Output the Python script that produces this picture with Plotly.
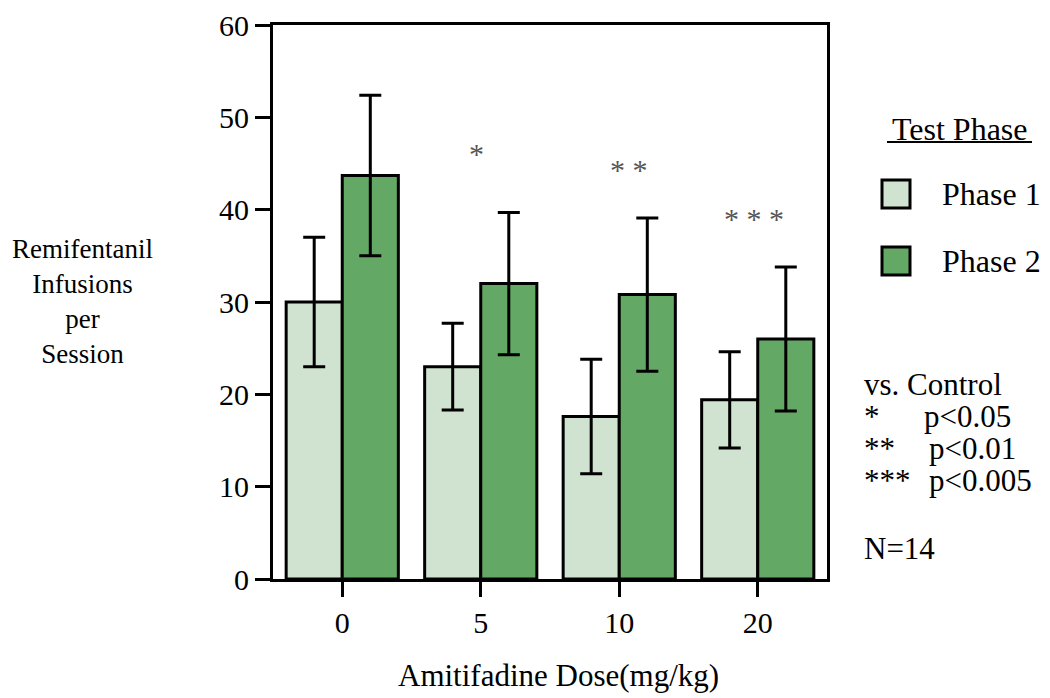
import plotly.graph_objects as go

doses = ["0", "5", "10", "20"]
series_names = ["Phase 1", "Phase 2"]
phase1_mean = [30.0, 23.0, 17.6, 19.4]
phase1_err = [7.0, 4.7, 6.2, 5.2]
phase2_mean = [43.7, 32.0, 30.8, 26.0]
phase2_err = [8.7, 7.7, 8.3, 7.8]
sig_labels = ["", "*", "* *", "* * *"]
sig_y = [None, 46.1, 44.4, 39.0]
y_ticks = [0, 10, 20, 30, 40, 50, 60]
legend_title = "Test Phase"
stat_header = "vs. Control"
stat_stars = ["*", "**", "***"]
stat_p = ["p<0.05", "p<0.01", "p<0.005"]
n_label = "N=14"
y_title_lines = ["Remifentanil", "Infusions", "per", "Session"]
x_title = "Amitifadine Dose(mg/kg)"

colors = ["#D0E3D0", "#64A865"]
FONT = "Liberation Serif"

# page offset of the figure (default body margin) and plot area in page pixels
OFF = 8
PAGE_W, PAGE_H = 1050, 698
L, R, T, B = 273, 827, 25, 579


def px(xp):
    return (xp - L) / (R - L)


def py(yp):
    return (B - yp) / (B - T)


fig = go.Figure()
for name, mean, err, col in zip(series_names, [phase1_mean, phase2_mean],
                                [phase1_err, phase2_err], colors):
    fig.add_trace(go.Bar(
        x=doses, y=mean, name=name,
        marker=dict(color=col, line=dict(color="black", width=3)),
        error_y=dict(type="data", array=err, visible=True, color="black",
                     thickness=3, width=11),
        showlegend=False,
    ))

fig.update_layout(
    width=PAGE_W - OFF, height=PAGE_H - OFF,
    margin=dict(l=L - OFF, r=PAGE_W - R, t=T - OFF, b=PAGE_H - B, autoexpand=False),
    plot_bgcolor="white", paper_bgcolor="white",
    barmode="group", bargap=0.19, bargroupgap=0,
    font=dict(family=FONT, color="black"),
    xaxis=dict(type="category", categoryorder="array", categoryarray=doses,
               range=[-0.5, len(doses) - 0.5], automargin=False,
               showline=True, linecolor="black", linewidth=3,
               mirror=True, ticks="outside", ticklen=15, tickwidth=3,
               tickcolor="black", tickfont=dict(size=30, family=FONT),
               showgrid=False, zeroline=False),
    yaxis=dict(range=[0, 60], tickvals=y_ticks, showline=True, linecolor="black",
               automargin=False,
               linewidth=3, mirror=True, ticks="outside", ticklen=15, tickwidth=3,
               tickcolor="black", tickfont=dict(size=30, family=FONT),
               showgrid=False, zeroline=False),
)

# significance stars above bars
xshifts = [0, -4, 10, -4]
for i, (lab, yy, xs) in enumerate(zip(sig_labels, sig_y, xshifts)):
    if lab:
        fig.add_annotation(x=i, y=yy, xref="x", yref="y", text=lab, showarrow=False,
                           xshift=xs, font=dict(size=30, color="#555555", family=FONT))

# x title
fig.add_annotation(x=px(558), y=py(675), xref="paper", yref="paper", text=x_title,
                   showarrow=False, xanchor="center", yanchor="middle",
                   font=dict(size=31, family=FONT))

# y title
fig.add_annotation(x=px(82), y=py(301), xref="paper", yref="paper",
                   text="<br>".join(y_title_lines), showarrow=False,
                   xanchor="center", yanchor="middle",
                   font=dict(size=27, family=FONT))

# custom legend
fig.add_annotation(x=px(960), y=py(129), xref="paper", yref="paper", text=legend_title,
                   showarrow=False, xanchor="center", yanchor="middle",
                   font=dict(size=32, family=FONT))
fig.add_shape(type="line", xref="paper", yref="paper", x0=px(887), x1=px(1032),
              y0=py(142), y1=py(142), line=dict(color="black", width=2))
box_y = [194, 261]
for name, col, by in zip(series_names, colors, box_y):
    fig.add_shape(type="rect", xref="paper", yref="paper", x0=px(882), x1=px(910),
                  y0=py(by - 14), y1=py(by + 14), fillcolor=col,
                  line=dict(color="black", width=3))
    fig.add_annotation(x=px(940), y=py(by), xref="paper", yref="paper", text=name,
                       showarrow=False, xanchor="left", yanchor="middle",
                       font=dict(size=32, family=FONT))

# stats text
fig.add_annotation(x=px(862), y=py(384), xref="paper", yref="paper", text=stat_header,
                   showarrow=False, xanchor="left", yanchor="middle",
                   font=dict(size=31, family=FONT))
line_y = [416, 448, 480]
p_x = [922, 927, 927]
for s, p, ly, pxx in zip(stat_stars, stat_p, line_y, p_x):
    fig.add_annotation(x=px(862), y=py(ly), xref="paper", yref="paper", text=s,
                       showarrow=False, xanchor="left", yanchor="middle",
                       font=dict(size=31, family=FONT))
    fig.add_annotation(x=px(pxx), y=py(ly), xref="paper", yref="paper", text=p,
                       showarrow=False, xanchor="left", yanchor="middle",
                       font=dict(size=31, family=FONT))
fig.add_annotation(x=px(862), y=py(548), xref="paper", yref="paper", text=n_label,
                   showarrow=False, xanchor="left", yanchor="middle",
                   font=dict(size=31, family=FONT))

fig.write_html("out.html")
